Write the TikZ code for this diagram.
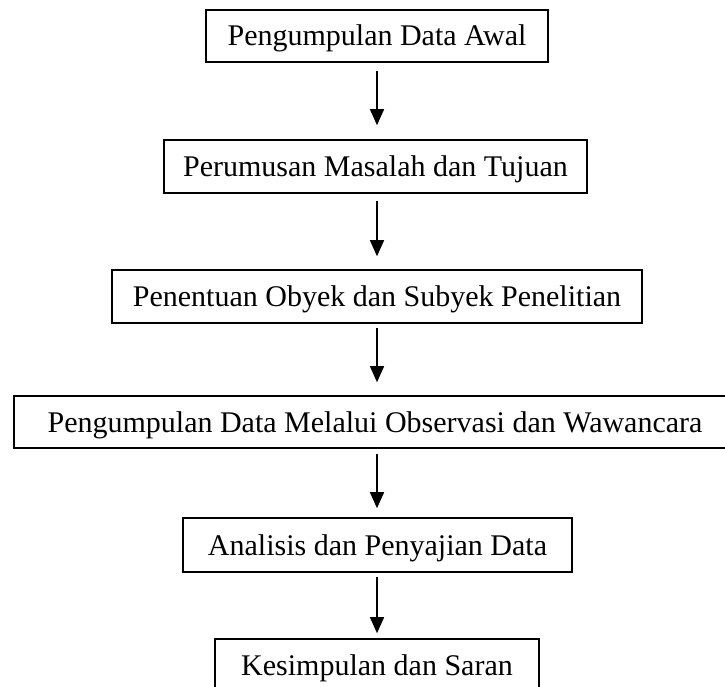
\documentclass[tikz,border=0pt]{standalone}
\usepackage{fontspec}
\setmainfont{Liberation Serif}
\usetikzlibrary{arrows.meta}
\begin{document}
\begin{tikzpicture}[x=1pt,y=-1pt,
  box/.style={draw, line width=1.6pt, inner sep=0pt, minimum height=53pt,
    text height=20pt, text depth=0pt, align=center,
    font=\fontsize{30}{36}\selectfont},
  arr/.style={line width=1.5pt, -{Triangle[width=14pt,length=16pt]}}]
\useasboundingbox (0,0) rectangle (725,687);
\node[box, minimum width=342pt, minimum height=52pt] (b1) at (377,36) {Pengumpulan Data Awal};
\node[box, minimum width=423pt] (b2) at (375.5,166.5) {Perumusan Masalah dan Tujuan};
\node[box, minimum width=530pt] (b3) at (377,296.5) {Penentuan Obyek dan Subyek Penelitian};
\node[box, minimum width=722pt, minimum height=52pt] (b4) at (375,422) {Pengumpulan Data Melalui Observasi dan Wawancara};
\node[box, minimum width=389pt, minimum height=54pt] (b5) at (377.5,545) {Analisis dan Penyajian Data};
\node[box, minimum width=324pt] (b6) at (377,665.5) {Kesimpulan dan Saran};
\draw[arr, shorten <=8pt, shorten >=14pt] (b1.south) -- (b1.south |- b2.north);
\draw[arr, shorten <=7pt, shorten >=13pt] (b2.south -| b1.south) -- (b1.south |- b3.north);
\draw[arr, shorten <=4pt, shorten >=13pt] (b3.south) -- (b3.south |- b4.north);
\draw[arr, shorten <=5pt, shorten >=9pt] (b4.south -| b1.south) -- (b1.south |- b5.north);
\draw[arr, shorten <=4pt, shorten >=5pt] (b5.south -| b1.south) -- (b1.south |- b6.north);
\end{tikzpicture}
\end{document}
